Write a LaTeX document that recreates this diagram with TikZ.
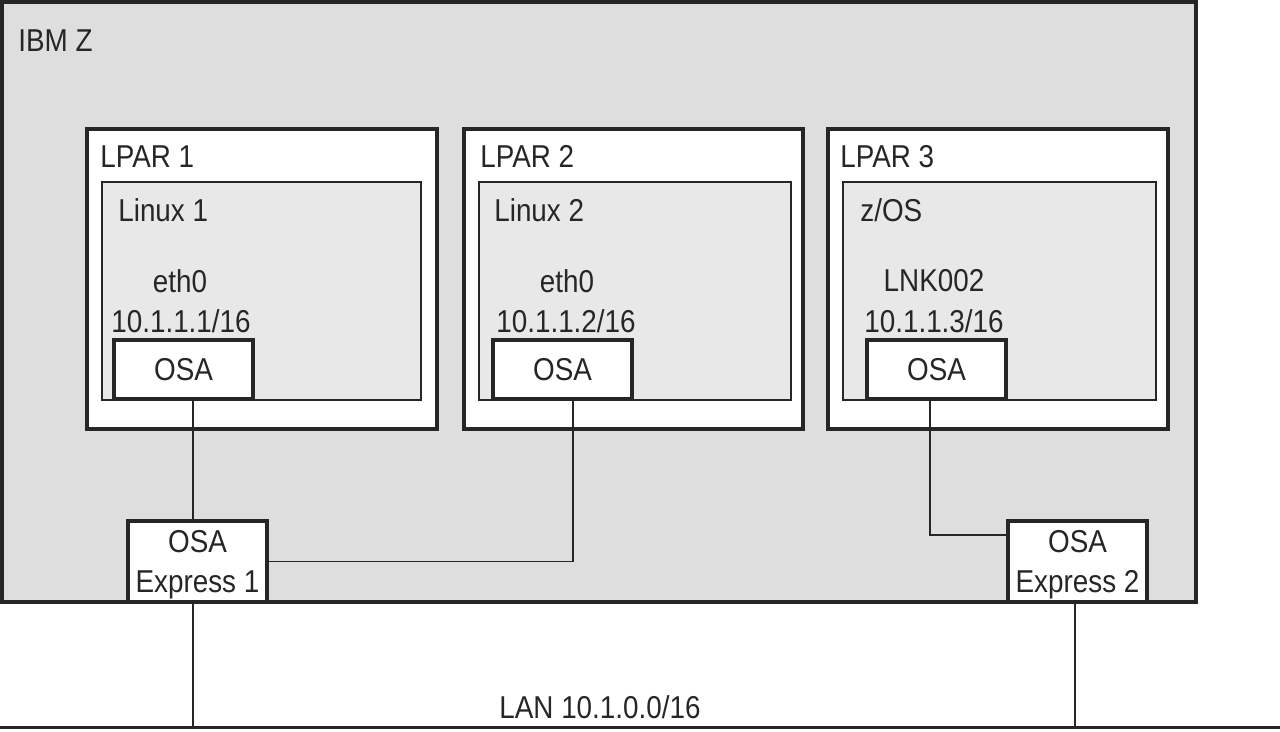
\documentclass[tikz,border=0pt]{standalone}
\usepackage{fontspec}
\setmainfont{Liberation Sans}[FakeStretch=0.88]
\usepackage{tikz}
\usetikzlibrary{calc}
\newcommand{\pxu}{0.02cm}
\newcommand{\nodepth}[1]{\raisebox{0pt}[\height][0pt]{#1}}
\tikzstyle{link}=[line width=0.9pt, color=black!85]

\begin{document}
\begin{tikzpicture}[x=\pxu, y=-\pxu,
  font=\fontsize{18}{23}\selectfont, text=black!85,
  frame/.style={rectangle, inner sep=0pt, draw=black!85},
  ibmz/.style={frame, line width=2.3pt, fill=black!13},
  lpar/.style={frame, line width=2pt, fill=white,
               minimum width=#1*\pxu, minimum height=300*\pxu},
  os/.style={frame, line width=0.9pt, fill=black!9,
             minimum width=#1*\pxu, minimum height=218*\pxu},
  osa/.style={frame, line width=2pt, fill=white,
              minimum width=139*\pxu, minimum height=59*\pxu},
  express/.style={osa, minimum height=81*\pxu, align=center},
  title/.style={anchor=base west, inner sep=0pt},
  lan/.style={line width=2.2pt, color=black!85}
]
\useasboundingbox (0,0) rectangle (1280,732);
\node[ibmz, minimum width=1194*\pxu, minimum height=600*\pxu] (ibmz) at (599,302) {};
\node[title] (ibmzlbl) at (18,52) {IBM Z};

\node[lpar=350] (lpar1) at (262,279) {};
\node[lpar=339] (lpar2) at (633.5,279) {};
\node[lpar=340] (lpar3) at (998,279) {};
\node[title] (lpar1lbl) at (100,168) {LPAR 1};
\node[title] (lpar2lbl) at (480,168) {LPAR 2};
\node[title] (lpar3lbl) at (840,168) {LPAR 3};

\node[os=319] (linux1) at (261.5,291) {};
\node[os=312] (linux2) at (635,291) {};
\node[os=313] (zos) at (999.5,291) {};
\node[title] (linux1lbl) at (118,222) {Linux 1};
\node[title] (linux2lbl) at (494,222) {Linux 2};
\node[title] (zoslbl) at (860,222) {z/OS};

\node[anchor=base] (if1) at (180,293) {eth0};
\node[anchor=base] (if2) at (567,293) {eth0};
\node[anchor=base] (if3) at (934,292) {LNK002};
\node[anchor=base] (ip1) at (181,333) {10.1.1.1/16};
\node[anchor=base] (ip2) at (566,333) {10.1.1.2/16};
\node[anchor=base] (ip3) at (934,333) {10.1.1.3/16};

\node[osa] (osa1) at (183.5,369.5) {OSA};
\node[osa] (osa2) at (562.5,369.5) {OSA};
\node[osa] (osa3) at (936.5,369.5) {OSA};

\node[express] (exp1) at (197.5,561.5) {OSA\\\nodepth{Express 1}};
\node[express] (exp2) at (1077.5,561.5) {OSA\\\nodepth{Express 2}};

\coordinate (d1) at ($(osa1.south)+(9.5,0)$);
\coordinate (d2) at ($(osa2.south)+(10.5,0)$);
\coordinate (d3) at ($(osa3.south)+(-6.5,0)$);
\draw[link] (d1) -- (d1 |- exp1.north);
\draw[link] (d2) |- (exp1.east);
\draw[link] (d3) |- ($(exp2.north west)+(0,16)$);

\coordinate (lanw) at (0,727.5);
\coordinate (lane) at (1280,727.5);
\draw[lan] (lanw) -- (lane);
\node[anchor=base] (lanlbl) at (600,718) {LAN 10.1.0.0/16};
\coordinate (u1) at ($(exp1.south)+(-4.5,0)$);
\coordinate (u2) at ($(exp2.south)+(-2.5,0)$);
\draw[link] (u1) -- (u1 |- lanw);
\draw[link] (u2) -- (u2 |- lanw);
\end{tikzpicture}
\end{document}
